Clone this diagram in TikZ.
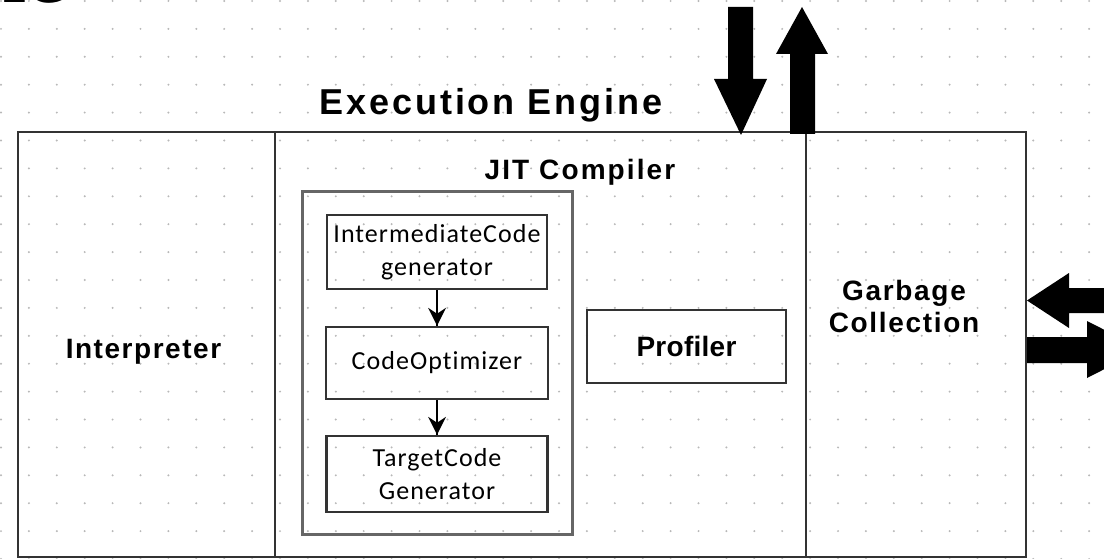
\documentclass[tikz,border=0pt]{standalone}
\usepackage{fontspec}
\setmainfont{Liberation Sans}
\newfontfamily\fTitle{Liberation Sans}[LetterSpace=8]
\newfontfamily\fJit{Liberation Sans}[LetterSpace=7.5]
\newfontfamily\fInt{Liberation Sans}[LetterSpace=5.5]
\newfontfamily\fGc{Liberation Sans}[LetterSpace=6]
\newfontfamily\fProf{Liberation Sans}[LetterSpace=1]
\newfontfamily\fSmall{Carlito}[LetterSpace=4, Ligatures=NoCommon]
\newfontfamily\fSerif{Liberation Serif}
\usetikzlibrary{arrows.meta}
\begin{document}
\begin{tikzpicture}[x=1pt,y=-1pt,
  region/.style={draw=black!80, line width=2pt, inner sep=0, minimum height=425},
  corebox/.style={draw=black!60, line width=3pt, inner sep=0},
  stagebox/.style={draw=black!80, line width=2.5pt, inner sep=0, align=center,
    font=\fSmall\fontsize{26}{33}\selectfont},
  lbl/.style={inner sep=0, anchor=base},
  flow/.style={draw=black, line width=2pt},
  headfill/.style={fill=black},
  blockarrow/.style={fill=black}]
\useasboundingbox (0,0) rectangle (1104,559);
\clip (0,0) rectangle (1104,559);
\fill[white] (0,0) rectangle (1104,559);
% dotted grid
\foreach \i in {0,...,39} {
  \foreach \j in {0,...,20} {
    \fill[black!28] (1+27.9*\i, 1+27.9*\j) circle (1.1);
  }
}
% cut-off heading fragment
\node[inner sep=0, anchor=base east, font=\fSerif\bfseries\fontsize{90}{90}\selectfont] (corner) at (67,2.5) {ne};
% regions
\node[region, minimum width=257] (interp) at (146.5,344.5) {};
\node[region, minimum width=531] (jit) at (540.5,344.5) {};
\node[region, minimum width=220] (gc) at (916,344.5) {};
% JIT inner box
\node[corebox, minimum width=270, minimum height=342] (jitcore) at (437,363) {};
% stages
\node[stagebox, minimum width=220, minimum height=74] (ic) at (437,252) {IntermediateCode\\generator};
\node[stagebox, minimum width=222, minimum height=72] (co) at (437,363) {CodeOptimizer};
\node[stagebox, minimum width=221, minimum height=76] (tc) at (437,474) {TargetCode\\Generator};
\node[stagebox, minimum width=199, minimum height=73, font=\fProf\bfseries\fontsize{28}{32}\selectfont] (prof) at (686.5,346.5) {Profiler};
% connectors with explicit stealth heads
\draw[flow] (ic.south) -- (co.north);
\fill[headfill] ([xshift=-9pt,yshift=18pt]co.north) -- (co.north) -- ([xshift=9pt,yshift=18pt]co.north) -- ([yshift=12pt]co.north) -- cycle;
\draw[flow] (co.south) -- (tc.north);
\fill[headfill] ([xshift=-9pt,yshift=18pt]tc.north) -- (tc.north) -- ([xshift=9pt,yshift=18pt]tc.north) -- ([yshift=12pt]tc.north) -- cycle;
% labels
\node[lbl, font=\fTitle\bfseries\fontsize{36}{40}\selectfont] (title) at (491,115) {Execution Engine};
\node[lbl, font=\fJit\bfseries\fontsize{28}{32}\selectfont] (jitlbl) at (580,179) {JIT Compiler};
\node[lbl, font=\fInt\bfseries\fontsize{28}{32}\selectfont] (interplbl) at (143.5,358) {Interpreter};
\node[inner sep=0, align=center, font=\fGc\bfseries\fontsize{28}{32}\selectfont] (gclbl) at (904,306) {Garbage\\Collection};
% block arrows
\fill[blockarrow] (728,7) -- (753,7) -- (753,79) -- (767,79) -- (741,135) -- (714,79) -- (728,79) -- cycle;
\fill[blockarrow] (790,134) -- (815,134) -- (815,54) -- (828,54) -- (802,7) -- (776,54) -- (790,54) -- cycle;
\fill[blockarrow] (1110,288) -- (1069,288) -- (1069,273) -- (1027,300.5) -- (1069,328) -- (1069,313) -- (1110,313) -- cycle;
\fill[blockarrow] (1027,337) -- (1087,337) -- (1087,321) -- (1143,349.5) -- (1087,378) -- (1087,363) -- (1027,363) -- cycle;
\end{tikzpicture}
\end{document}
